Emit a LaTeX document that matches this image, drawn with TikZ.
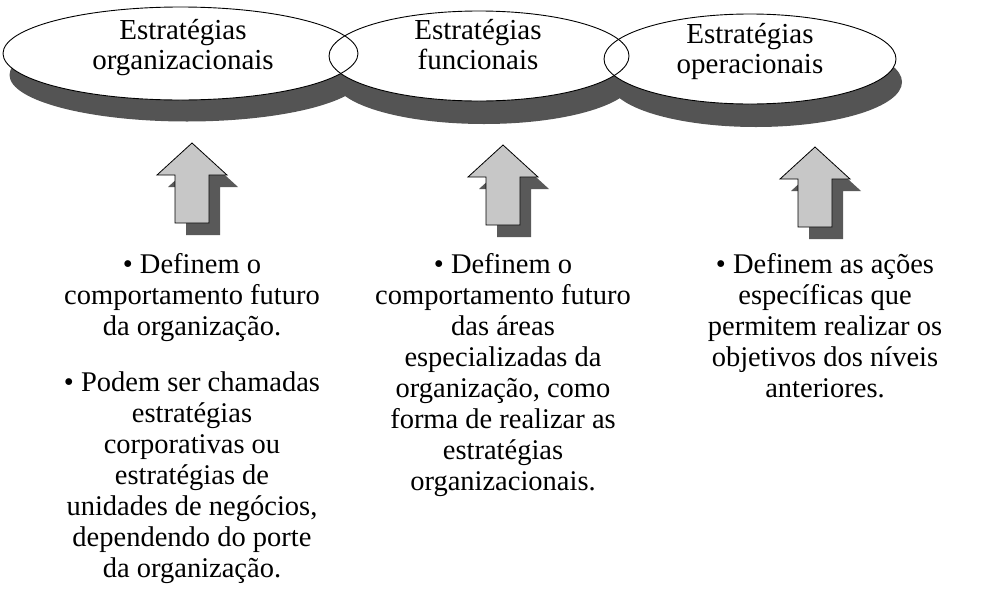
\documentclass[tikz,border=0pt]{standalone}
\usepackage{fontspec}
\setmainfont{Liberation Serif}
\usetikzlibrary{shapes.geometric}
\definecolor{shadowcol}{gray}{0.33}
\definecolor{arrowfill}{gray}{0.78}
\definecolor{arrowshadow}{gray}{0.35}
\tikzset{
  ellbox/.style={ellipse, draw=black, line width=0.9pt, inner sep=0pt},
  ellshadow/.style={fill=shadowcol},
  elltext/.style={anchor=north, align=center, inner sep=0pt, font=\fontsize{29}{30}\selectfont},
  coltext/.style={anchor=north, align=center, inner sep=0pt, font=\fontsize{28.5}{31}\selectfont},
  uparr/.pic={
    \fill[arrowshadow] (11,12) -- ++(-35,32) -- ++(18,0) -- ++(0,48) -- ++(34,0) -- ++(0,-48) -- ++(18,0) -- cycle;
    \filldraw[fill=arrowfill, draw=black, line width=0.8pt] (0,0) -- ++(-35,32) -- ++(18,0) -- ++(0,48) -- ++(34,0) -- ++(0,-48) -- ++(18,0) -- cycle;
  }
}
\begin{document}
\begin{tikzpicture}[x=1pt,y=-1pt]
\useasboundingbox (0,0) rectangle (995,592);
% shadows
\fill[ellshadow] (187,75) ellipse [x radius=177.5, y radius=46.5];
\fill[ellshadow] (484,79) ellipse [x radius=150, y radius=45];
\fill[ellshadow] (756,82) ellipse [x radius=146, y radius=45];
% white fills
\fill[white] (180.5,53.5) ellipse [x radius=177.5, y radius=46.5];
\fill[white] (479,56) ellipse [x radius=150, y radius=45];
\fill[white] (750,59) ellipse [x radius=146, y radius=45];
% outlines
\node[ellbox, minimum width=355pt, minimum height=93pt] (e1) at (180.5,53.5) {};
\node[ellbox, minimum width=300pt, minimum height=90pt] (e2) at (479,56) {};
\node[ellbox, minimum width=292pt, minimum height=90pt] (e3) at (750,59) {};
% labels
\node[elltext] (l1) at (183,17) {\rule{0pt}{22pt}Estratégias\\organizacionais};
\node[elltext] (l2) at (478,17) {\rule{0pt}{22pt}Estratégias\\funcionais};
\node[elltext] (l3) at (750,21) {\rule{0pt}{22pt}Estratégias\\operacionais};
% arrows
\coordinate (a1) at (192,143);
\coordinate (a2) at (503,145);
\coordinate (a3) at (815,147);
\pic at (a1) {uparr};
\pic at (a2) {uparr};
\pic at (a3) {uparr};
% column texts
\node[coltext] (c1) at (192,252) {\rule{0pt}{21pt}• Definem o\\comportamento futuro\\da organização.\\[25pt]• Podem ser chamadas\\estratégias\\corporativas ou\\estratégias de\\unidades de negócios,\\dependendo do porte\\da organização.};
\node[coltext] (c2) at (503,252) {\rule{0pt}{21pt}• Definem o\\comportamento futuro\\das áreas\\especializadas da\\organização, como\\forma de realizar as\\estratégias\\organizacionais.};
\node[coltext] (c3) at (825,252) {\rule{0pt}{21pt}• Definem as ações\\específicas que\\permitem realizar os\\objetivos dos níveis\\anteriores.};
\end{tikzpicture}
\end{document}
